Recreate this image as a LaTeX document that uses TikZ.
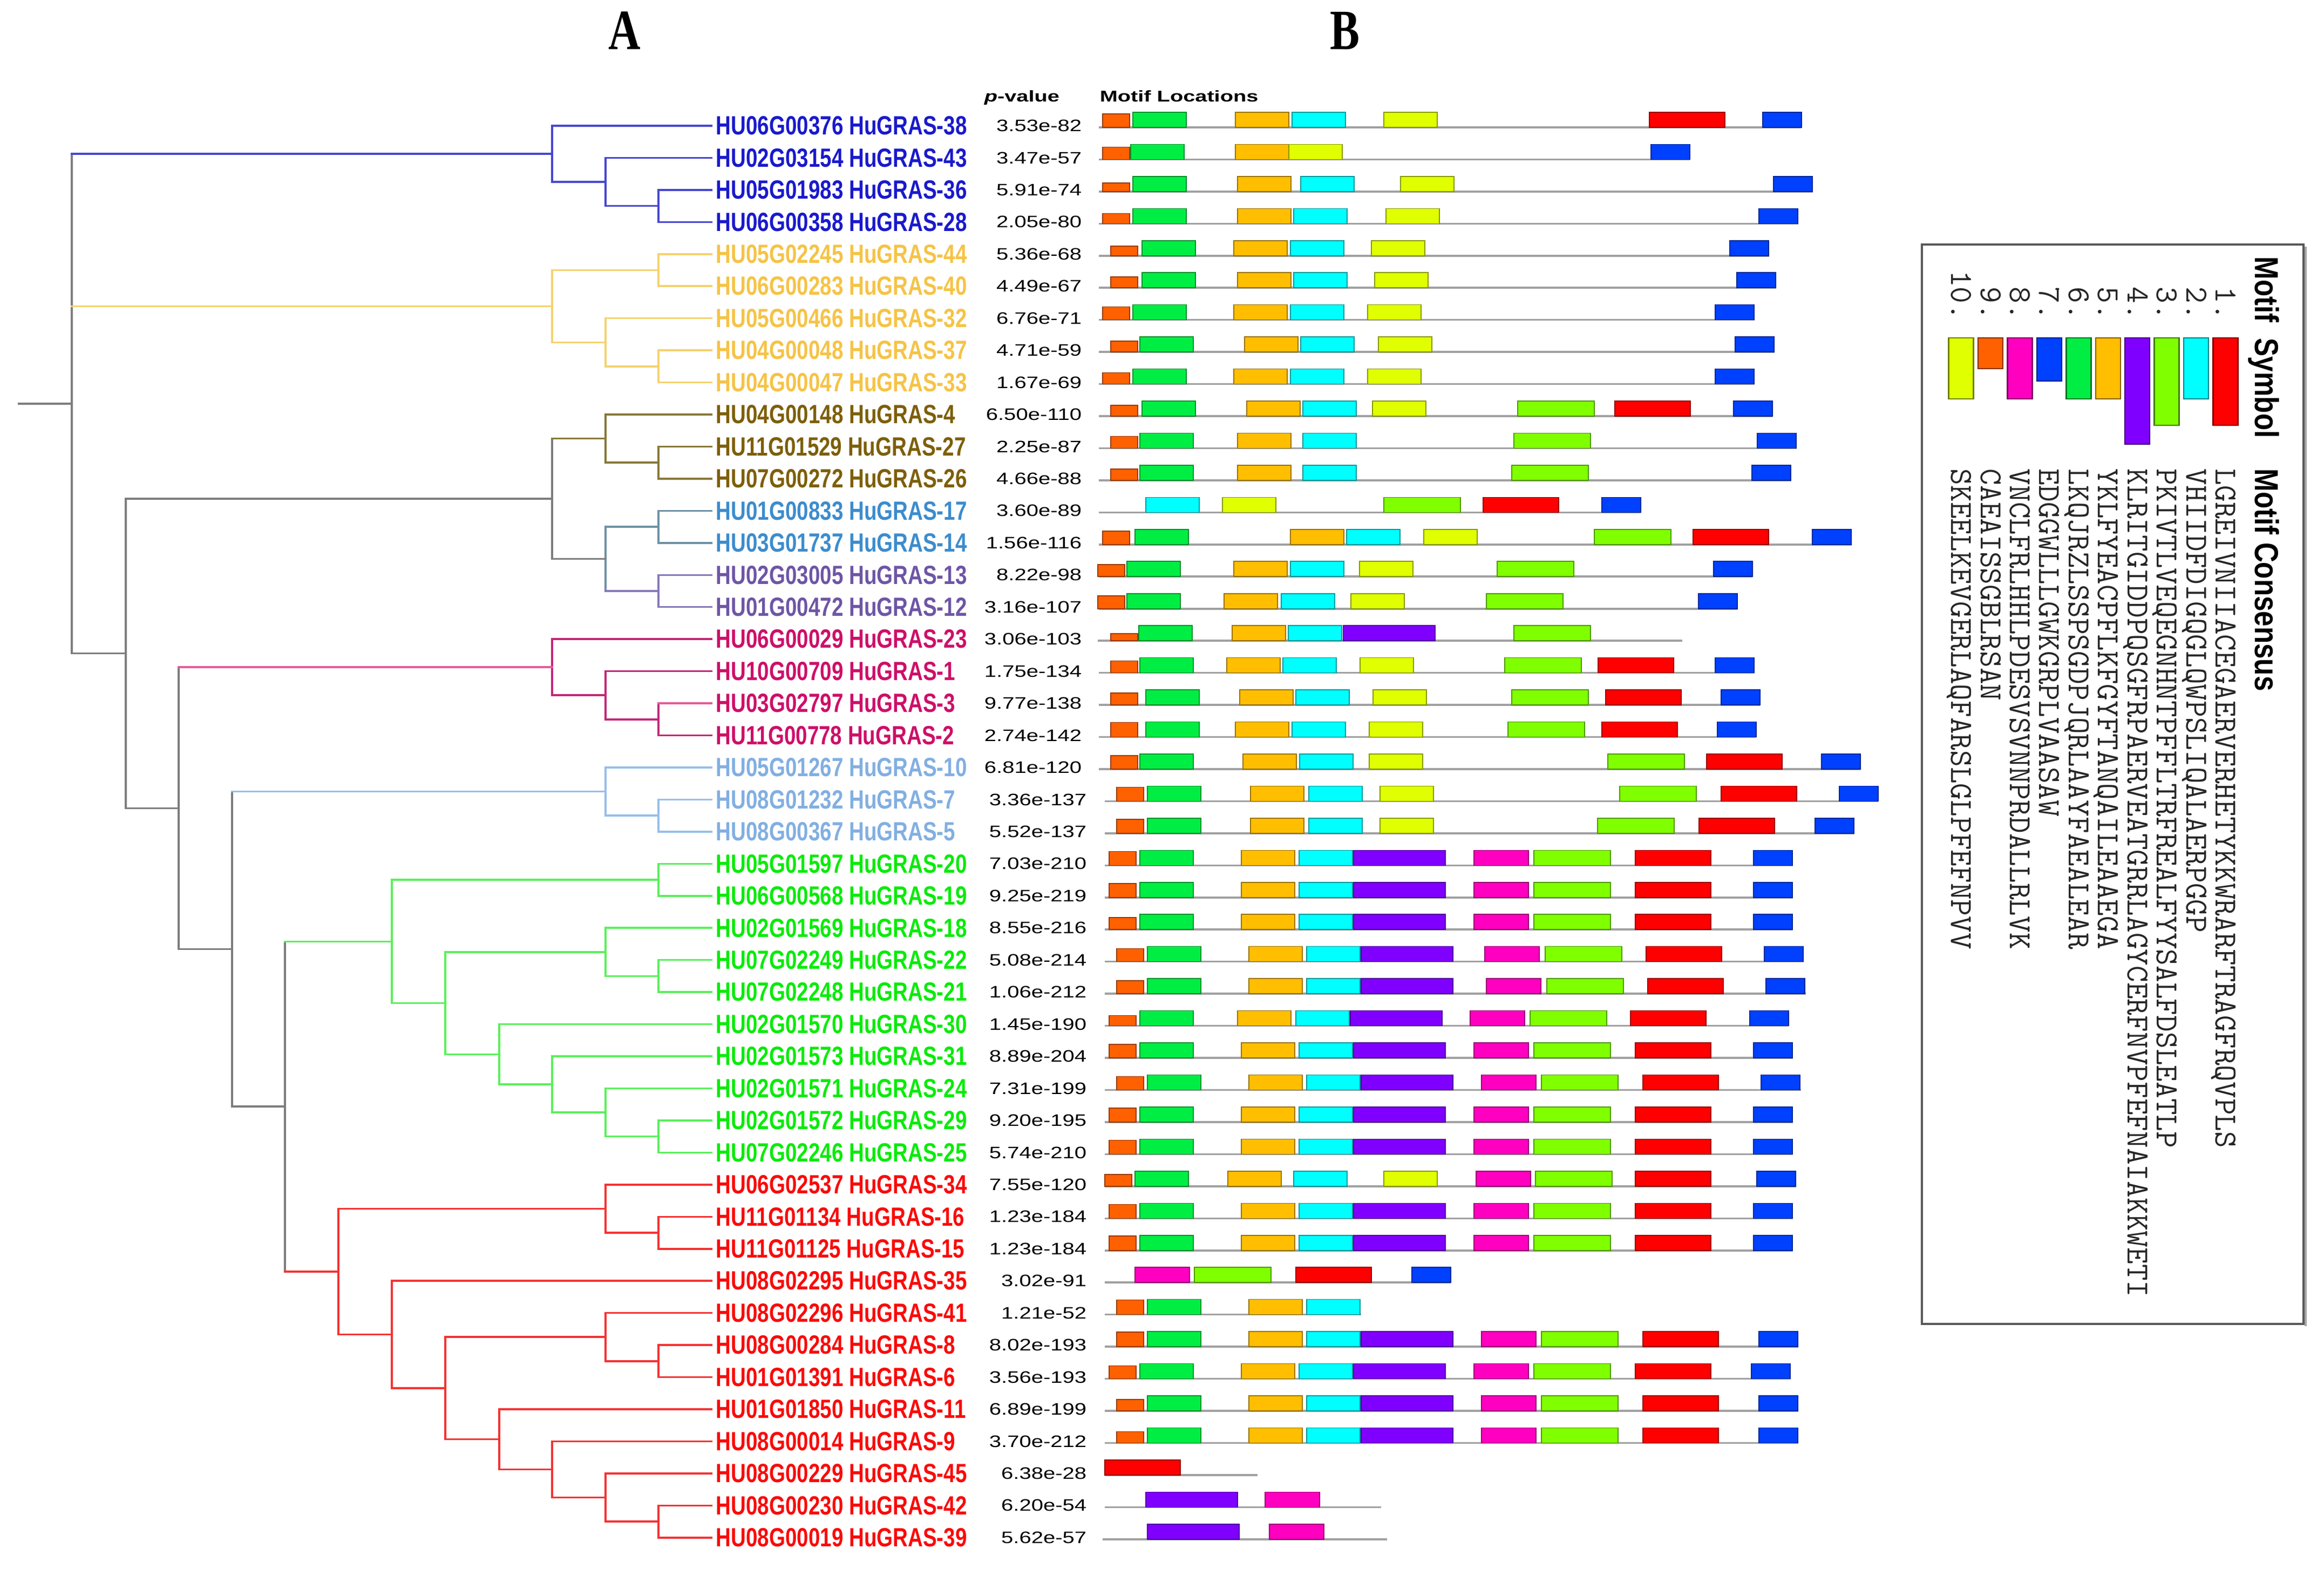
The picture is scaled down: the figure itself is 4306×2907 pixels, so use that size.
\documentclass[tikz,border=0pt]{standalone}
\usepackage{fontspec}
\usetikzlibrary{calc}
\newfontfamily\labfont[FakeStretch=0.79]{Liberation Sans}
\newfontfamily\pvfont[FakeStretch=1.3]{Liberation Sans}
\newfontfamily\hdfont[FakeStretch=1.38]{Liberation Sans}
\newfontfamily\ttlfont[FakeStretch=0.78]{Liberation Serif}
\newfontfamily\lgfont[FakeStretch=0.83]{Liberation Sans}
% motif colours
\definecolor{m1}{RGB}{255,0,0}
\definecolor{m2}{RGB}{0,255,255}
\definecolor{m3}{RGB}{128,255,0}
\definecolor{m4}{RGB}{128,0,255}
\definecolor{m5}{RGB}{255,190,0}
\definecolor{m6}{RGB}{0,238,68}
\definecolor{m7}{RGB}{0,64,255}
\definecolor{m8}{RGB}{255,0,192}
\definecolor{m9}{RGB}{255,96,0}
\definecolor{m10}{RGB}{224,255,0}
% label colours
\definecolor{cBlue}{RGB}{25,25,205}
\definecolor{cGold}{RGB}{245,195,70}
\definecolor{cOlive}{RGB}{125,95,10}
\definecolor{cSteel}{RGB}{60,140,205}
\definecolor{cPurp}{RGB}{110,85,165}
\definecolor{cCrim}{RGB}{205,15,105}
\definecolor{cLBlue}{RGB}{130,175,225}
\definecolor{cGreen}{RGB}{10,235,10}
\definecolor{cRed}{RGB}{250,10,10}
% branch colours
\definecolor{lGray}{RGB}{125,125,125}
\definecolor{lBlue}{RGB}{70,70,210}
\definecolor{lGold}{RGB}{245,210,110}
\definecolor{lOlive}{RGB}{135,120,55}
\definecolor{lSteel}{RGB}{110,145,165}
\definecolor{lPurp}{RGB}{135,120,185}
\definecolor{lCrim}{RGB}{195,40,120}
\definecolor{lPink}{RGB}{230,90,150}
\definecolor{lLBlue}{RGB}{150,190,235}
\definecolor{lGreen}{RGB}{90,240,90}
\definecolor{lRed}{RGB}{245,50,50}
\definecolor{mLine}{RGB}{160,160,160}
\tikzset{
  br/.style={line width=0.875pt, line cap=rect},
  lab/.style={font={\labfont\bfseries\fontsize{12.2pt}{14pt}\selectfont}, anchor=west, inner sep=0pt},
  pv/.style={font={\pvfont\fontsize{7.7pt}{9pt}\selectfont}, anchor=east, inner sep=0pt},
  hd/.style={font={\hdfont\bfseries\fontsize{7.2pt}{9pt}\selectfont}, anchor=base west, inner sep=0pt},
  ttl/.style={font={\ttlfont\bfseries\fontsize{26.4pt}{30pt}\selectfont}, inner sep=0pt},
  lghd/.style={font={\lgfont\bfseries\fontsize{15.4pt}{18pt}\selectfont}, rotate=-90, anchor=base west, inner sep=0pt},
  seqt/.style={font={\ttfamily\fontsize{14.9pt}{18pt}\selectfont}, text=black!85, rotate=-90, anchor=base west, inner sep=0pt},
  numt/.style={font={\ttfamily\fontsize{14.9pt}{18pt}\selectfont}, text=black!85, rotate=-90, anchor=base east, inner sep=0pt},
  mline/.style={draw=mLine, line width=0.9pt},
  legbox/.style={draw=black!65, line width=0.8pt}
}
% internal tree node: name, level coordinate, first child, last child
\newcommand\inode[4]{\coordinate (tmpa) at ($(#3)!.5!(#4)$);\coordinate (#1) at (#2 |- tmpa);}
% draw a node: vertical colour, node, child1, colour1, child2, colour2
\newcommand\tn[6]{%
  \draw[br,#1] (#2 |- #3) -- (#2 |- #5);
  \draw[br,#4] (#2 |- #3) -- (#3);
  \draw[br,#6] (#2 |- #5) -- (#5);}
% motif row: row, line start, line end, orange height, list motif/x
\newcommand\mrow[5]{%
  \pgfmathsetmacro\mly{236+(#1-1)*59.45}%
  \draw[mline] (#2,\mly) -- (#3,\mly);
  \foreach \m/\x in {#5}{%
    \pgfmathsetmacro\mw{{140,99,142,170,99,99,72,101,50,99}[\m-1]}%
    \pgfmathsetmacro\mh{\m==9 ? #4 : 28}%
    \filldraw[fill=m\m, draw=m\m!60!black, line width=0.4pt] (\x,\mly) rectangle ++(\mw,-\mh);
  }}
\begin{document}
\begin{tikzpicture}[x=0.25pt,y=-0.25pt]
\useasboundingbox (0,0) rectangle (4306,2907);
% titles
\node[ttl] (tA) at (1157,57) {A};
\node[ttl] (tB) at (2492,57) {B};
% ---------------- tree ----------------
\coordinate (K0) at (133,0);  \coordinate (K1) at (233,0);
\coordinate (K2) at (331,0);  \coordinate (K3) at (430,0);
\coordinate (K4) at (528,0);  \coordinate (K5) at (627,0);
\coordinate (K6) at (726,0);  \coordinate (K7) at (825,0);
\coordinate (K8) at (925,0);  \coordinate (K9) at (1023,0);
\coordinate (K10) at (1122,0); \coordinate (K11) at (1220,0);
\foreach \i in {1,...,45}{\coordinate (L\i) at (1318,{233+(\i-1)*59.45});}
% blue
\inode{b11}{K11}{L3}{L4}
\inode{b10}{K10}{L2}{b11}
\inode{b9}{K9}{L1}{b10}
% gold
\inode{g11a}{K11}{L5}{L6}
\inode{g11b}{K11}{L8}{L9}
\inode{g10}{K10}{L7}{g11b}
\inode{g9}{K9}{g11a}{g10}
% olive, steel, purple
\inode{o11}{K11}{L11}{L12}
\inode{o10}{K10}{L10}{o11}
\inode{s11}{K11}{L13}{L14}
\inode{p11}{K11}{L15}{L16}
\inode{sp10}{K10}{s11}{p11}
\inode{n9}{K9}{o10}{sp10}
% crimson
\inode{m11}{K11}{L19}{L20}
\inode{m10}{K10}{L18}{m11}
\inode{m9}{K9}{L17}{m10}
% light blue
\inode{lb11}{K11}{L22}{L23}
\inode{lb10}{K10}{L21}{lb11}
% green
\inode{gr11a}{K11}{L24}{L25}
\inode{gr11b}{K11}{L27}{L28}
\inode{gr10a}{K10}{L26}{gr11b}
\inode{gr11c}{K11}{L32}{L33}
\inode{gr10b}{K10}{L31}{gr11c}
\inode{gr9}{K9}{L30}{gr10b}
\inode{gr8}{K8}{L29}{gr9}
\inode{gr7}{K7}{gr10a}{gr8}
\inode{gr6}{K6}{gr11a}{gr7}
% red
\inode{r11a}{K11}{L35}{L36}
\inode{r10a}{K10}{L34}{r11a}
\inode{r11b}{K11}{L39}{L40}
\inode{r10b}{K10}{L38}{r11b}
\inode{r11c}{K11}{L44}{L45}
\inode{r10c}{K10}{L43}{r11c}
\inode{r9}{K9}{L42}{r10c}
\inode{r8}{K8}{L41}{r9}
\inode{r7}{K7}{r10b}{r8}
\inode{r6}{K6}{L37}{r7}
\inode{r5}{K5}{r10a}{r6}
% backbone
\inode{n4}{K4}{gr6}{r5}
\inode{n3}{K3}{lb10}{n4}
\inode{n2}{K2}{m9}{n3}
\inode{n1}{K1}{n9}{n2}
\inode{root}{K0}{b9}{n1}
\coordinate (R0) at ($(root)+(-98,0)$);
% draw
\tn{lBlue}{b11}{L3}{lBlue}{L4}{lBlue}
\tn{lBlue}{b10}{L2}{lBlue}{b11}{lBlue}
\tn{lBlue}{b9}{L1}{lBlue}{b10}{lBlue}
\tn{lGold}{g11a}{L5}{lGold}{L6}{lGold}
\tn{lGold}{g11b}{L8}{lGold}{L9}{lGold}
\tn{lGold}{g10}{L7}{lGold}{g11b}{lGold}
\tn{lGold}{g9}{g11a}{lGold}{g10}{lGold}
\tn{lOlive}{o11}{L11}{lOlive}{L12}{lOlive}
\tn{lOlive}{o10}{L10}{lOlive}{o11}{lOlive}
\tn{lSteel}{s11}{L13}{lSteel}{L14}{lSteel}
\tn{lPurp}{p11}{L15}{lPurp}{L16}{lPurp}
\tn{lSteel}{sp10}{s11}{lSteel}{p11}{lPurp}
\tn{lGray}{n9}{o10}{lOlive}{sp10}{lGray}
\tn{lCrim}{m11}{L19}{lPink}{L20}{lCrim}
\tn{lCrim}{m10}{L18}{lCrim}{m11}{lCrim}
\tn{lCrim}{m9}{L17}{lCrim}{m10}{lCrim}
\tn{lLBlue}{lb11}{L22}{lLBlue}{L23}{lLBlue}
\tn{lLBlue}{lb10}{L21}{lLBlue}{lb11}{lLBlue}
\tn{lGreen}{gr11a}{L24}{lGreen}{L25}{lGreen}
\tn{lGreen}{gr11b}{L27}{lGreen}{L28}{lGreen}
\tn{lGreen}{gr10a}{L26}{lGreen}{gr11b}{lGreen}
\tn{lGreen}{gr11c}{L32}{lGreen}{L33}{lGreen}
\tn{lGreen}{gr10b}{L31}{lGreen}{gr11c}{lGreen}
\tn{lGreen}{gr9}{L30}{lGreen}{gr10b}{lGreen}
\tn{lGreen}{gr8}{L29}{lGreen}{gr9}{lGreen}
\tn{lGreen}{gr7}{gr10a}{lGreen}{gr8}{lGreen}
\tn{lGreen}{gr6}{gr11a}{lGreen}{gr7}{lGreen}
\tn{lRed}{r11a}{L35}{lRed}{L36}{lRed}
\tn{lRed}{r10a}{L34}{lRed}{r11a}{lRed}
\tn{lRed}{r11b}{L39}{lRed}{L40}{lRed}
\tn{lRed}{r10b}{L38}{lRed}{r11b}{lRed}
\tn{lRed}{r11c}{L44}{lRed}{L45}{lRed}
\tn{lRed}{r10c}{L43}{lRed}{r11c}{lRed}
\tn{lRed}{r9}{L42}{lRed}{r10c}{lRed}
\tn{lRed}{r8}{L41}{lRed}{r9}{lRed}
\tn{lRed}{r7}{r10b}{lRed}{r8}{lRed}
\tn{lRed}{r6}{L37}{lRed}{r7}{lRed}
\tn{lRed}{r5}{r10a}{lRed}{r6}{lRed}
\tn{lGray}{n4}{gr6}{lGreen}{r5}{lRed}
\tn{lGray}{n3}{lb10}{lLBlue}{n4}{lGray}
\tn{lGray}{n2}{m9}{lPink}{n3}{lGray}
\tn{lGray}{n1}{n9}{lGray}{n2}{lGray}
\tn{lGray}{root}{b9}{lBlue}{n1}{lGray}
\draw[br,lGold] (root |- g9) -- (g9);
\draw[br,lGray] (R0) -- (root);
% ---------------- labels and p-values ----------------
\foreach \i/\t/\c/\p in {
1/HU06G00376 HuGRAS-38/cBlue/3.53e-82,
2/HU02G03154 HuGRAS-43/cBlue/3.47e-57,
3/HU05G01983 HuGRAS-36/cBlue/5.91e-74,
4/HU06G00358 HuGRAS-28/cBlue/2.05e-80,
5/HU05G02245 HuGRAS-44/cGold/5.36e-68,
6/HU06G00283 HuGRAS-40/cGold/4.49e-67,
7/HU05G00466 HuGRAS-32/cGold/6.76e-71,
8/HU04G00048 HuGRAS-37/cGold/4.71e-59,
9/HU04G00047 HuGRAS-33/cGold/1.67e-69,
10/HU04G00148 HuGRAS-4/cOlive/6.50e-110,
11/HU11G01529 HuGRAS-27/cOlive/2.25e-87,
12/HU07G00272 HuGRAS-26/cOlive/4.66e-88,
13/HU01G00833 HuGRAS-17/cSteel/3.60e-89,
14/HU03G01737 HuGRAS-14/cSteel/1.56e-116,
15/HU02G03005 HuGRAS-13/cPurp/8.22e-98,
16/HU01G00472 HuGRAS-12/cPurp/3.16e-107,
17/HU06G00029 HuGRAS-23/cCrim/3.06e-103,
18/HU10G00709 HuGRAS-1/cCrim/1.75e-134,
19/HU03G02797 HuGRAS-3/cCrim/9.77e-138,
20/HU11G00778 HuGRAS-2/cCrim/2.74e-142,
21/HU05G01267 HuGRAS-10/cLBlue/6.81e-120,
22/HU08G01232 HuGRAS-7/cLBlue/3.36e-137,
23/HU08G00367 HuGRAS-5/cLBlue/5.52e-137,
24/HU05G01597 HuGRAS-20/cGreen/7.03e-210,
25/HU06G00568 HuGRAS-19/cGreen/9.25e-219,
26/HU02G01569 HuGRAS-18/cGreen/8.55e-216,
27/HU07G02249 HuGRAS-22/cGreen/5.08e-214,
28/HU07G02248 HuGRAS-21/cGreen/1.06e-212,
29/HU02G01570 HuGRAS-30/cGreen/1.45e-190,
30/HU02G01573 HuGRAS-31/cGreen/8.89e-204,
31/HU02G01571 HuGRAS-24/cGreen/7.31e-199,
32/HU02G01572 HuGRAS-29/cGreen/9.20e-195,
33/HU07G02246 HuGRAS-25/cGreen/5.74e-210,
34/HU06G02537 HuGRAS-34/cRed/7.55e-120,
35/HU11G01134 HuGRAS-16/cRed/1.23e-184,
36/HU11G01125 HuGRAS-15/cRed/1.23e-184,
37/HU08G02295 HuGRAS-35/cRed/3.02e-91,
38/HU08G02296 HuGRAS-41/cRed/1.21e-52,
39/HU08G00284 HuGRAS-8/cRed/8.02e-193,
40/HU01G01391 HuGRAS-6/cRed/3.56e-193,
41/HU01G01850 HuGRAS-11/cRed/6.89e-199,
42/HU08G00014 HuGRAS-9/cRed/3.70e-212,
43/HU08G00229 HuGRAS-45/cRed/6.38e-28,
44/HU08G00230 HuGRAS-42/cRed/6.20e-54,
45/HU08G00019 HuGRAS-39/cRed/5.62e-57}{
  \pgfmathsetmacro\yy{233+(\i-1)*59.45}
  \pgfmathsetmacro\px{\i<22 ? 2005 : 2014}
  \node[lab, text=\c] (lab\i) at (1326,\yy) {\t};
  \node[pv] (pv\i) at (\px,\yy) {\p};
}
% ---------------- motif locations ----------------
\node[hd] (hp) at (1823,189) {\textit{p}-value};
\node[hd] (hm) at (2037,189) {Motif Locations};
\mrow{1}{2036}{3337}{25}{9/2043,6/2099,5/2289,2/2394,10/2564,1/3056,7/3266}
\mrow{2}{2036}{3131}{23}{9/2043,6/2095,5/2289,10/2388,7/3059}
\mrow{3}{2036}{3359}{16}{9/2043,6/2099,5/2293,2/2410,10/2595,7/3286}
\mrow{4}{2036}{3332}{19}{9/2043,6/2099,5/2293,2/2397,10/2568,7/3259}
\mrow{5}{2036}{3278}{18}{9/2058,6/2116,5/2286,2/2391,10/2541,7/3205}
\mrow{6}{2036}{3291}{20}{9/2058,6/2116,5/2293,2/2397,10/2547,7/3218}
\mrow{7}{2036}{3251}{24}{9/2043,6/2099,5/2286,2/2391,10/2534,7/3178}
\mrow{8}{2036}{3288}{20}{9/2058,6/2112,5/2306,2/2410,10/2554,7/3215}
\mrow{9}{2036}{3251}{21}{9/2043,6/2099,5/2286,2/2391,10/2534,7/3178}
\mrow{10}{2036}{3284}{20}{9/2058,6/2116,5/2310,2/2414,10/2543,3/2812,1/2992,7/3212}
\mrow{11}{2036}{3329}{22}{9/2058,6/2112,5/2293,2/2414,3/2805,7/3256}
\mrow{12}{2036}{3319}{21}{9/2058,6/2112,5/2293,2/2414,3/2801,7/3246}
\mrow{13}{2036}{3040}{28}{2/2123,10/2265,3/2564,1/2748,7/2968}
\mrow{14}{2036}{3431}{25}{9/2043,6/2103,5/2391,2/2495,10/2638,3/2954,1/3137,7/3358}
\mrow{15}{2036}{3247}{22}{9/2034,6/2088,5/2286,2/2391,10/2519,3/2774,7/3175}
\mrow{16}{2036}{3219}{24}{9/2034,6/2088,5/2268,2/2374,10/2503,3/2754,7/3147}
\mrow{17}{2034}{3117}{13}{9/2058,6/2110,5/2283,2/2387,4/2489,3/2805}
\mrow{18}{2036}{3251}{22}{9/2058,6/2112,5/2273,2/2377,10/2520,3/2788,1/2961,7/3178}
\mrow{19}{2036}{3261}{22}{9/2058,6/2123,5/2297,2/2401,10/2544,3/2801,1/2975,7/3189}
\mrow{20}{2036}{3254}{27}{9/2058,6/2123,5/2289,2/2394,10/2537,3/2794,1/2968,7/3182}
\mrow{21}{2036}{3447}{25}{9/2058,6/2112,5/2303,2/2408,10/2537,3/2979,1/3162,7/3375}
\mrow{22}{2047}{3480}{26}{9/2069,6/2126,5/2317,2/2425,10/2557,3/3001,1/3189,7/3408}
\mrow{23}{2047}{3436}{26}{9/2069,6/2126,5/2317,2/2425,10/2557,3/2960,1/3148,7/3363}
\mrow{24}{2047}{3322}{26}{9/2055,6/2112,5/2300,2/2407,4/2508,8/2731,3/2842,1/3030,7/3249}
\mrow{25}{2047}{3322}{26}{9/2055,6/2112,5/2300,2/2407,4/2508,8/2731,3/2842,1/3030,7/3249}
\mrow{26}{2047}{3322}{22}{9/2055,6/2112,5/2300,2/2407,4/2508,8/2731,3/2842,1/3030,7/3249}
\mrow{27}{2047}{3342}{24}{9/2069,6/2126,5/2314,2/2421,4/2522,8/2751,3/2863,1/3050,7/3269}
\mrow{28}{2047}{3346}{24}{9/2069,6/2126,5/2314,2/2421,4/2522,8/2754,3/2866,1/3053,7/3272}
\mrow{29}{2047}{3314}{19}{9/2055,6/2112,5/2293,2/2401,4/2502,8/2724,3/2835,1/3021,7/3242}
\mrow{30}{2047}{3322}{25}{9/2055,6/2112,5/2300,2/2407,4/2508,8/2731,3/2842,1/3030,7/3249}
\mrow{31}{2047}{3337}{25}{9/2069,6/2126,5/2314,2/2421,4/2522,8/2745,3/2856,1/3044,7/3263}
\mrow{32}{2047}{3322}{26}{9/2055,6/2112,5/2300,2/2407,4/2508,8/2731,3/2842,1/3030,7/3249}
\mrow{33}{2047}{3322}{26}{9/2055,6/2112,5/2300,2/2407,4/2508,8/2731,3/2842,1/3030,7/3249}
\mrow{34}{2047}{3328}{22}{9/2047,6/2103,5/2275,2/2397,10/2564,8/2735,3/2845,1/3030,7/3255}
\mrow{35}{2047}{3322}{26}{9/2055,6/2112,5/2300,2/2407,4/2508,8/2731,3/2842,1/3030,7/3249}
\mrow{36}{2047}{3322}{27}{9/2055,6/2112,5/2300,2/2407,4/2508,8/2731,3/2842,1/3030,7/3249}
\mrow{37}{2047}{2688}{28}{8/2103,3/2213,1/2401,7/2616}
\mrow{38}{2047}{2522}{27}{9/2069,6/2126,5/2314,2/2421}
\mrow{39}{2047}{3332}{27}{9/2069,6/2126,5/2314,2/2421,4/2522,8/2745,3/2856,1/3044,7/3259}
\mrow{40}{2047}{3318}{24}{9/2055,6/2112,5/2300,2/2407,4/2508,8/2731,3/2842,1/3030,7/3245}
\mrow{41}{2047}{3332}{21}{9/2069,6/2126,5/2314,2/2421,4/2522,8/2745,3/2856,1/3044,7/3259}
\mrow{42}{2047}{3332}{21}{9/2069,6/2126,5/2314,2/2421,4/2522,8/2745,3/2856,1/3044,7/3259}
\mrow{43}{2047}{2330}{28}{1/2047}
\mrow{44}{2047}{2559}{28}{4/2123,8/2344}
\mrow{45}{2043}{2570}{28}{4/2126,8/2352}
% ---------------- legend ----------------
\draw[legbox] (3561,453) rectangle (4268,2453);
\draw[black!35, line width=0.8pt] (4272,457) -- (4272,2457);
\node[lghd] (lh1) at (4178,475) {Motif};
\node[lghd] (lh2) at (4178,626) {Symbol};
\node[lghd] (lh3) at (4178,868) {Motif Consensus};
\foreach \k/\len/\sq in {
1/162/LGREIVNIIACEGAERVERHETYKKWRARFTRAGFRQVPLS,
2/113/VHIIDFDIGQGLQWPSLIQALAERPGGP,
3/162/PKIVTLVEQEGNHNTPFFLTRFREALFYYSALFDSLEATLP,
4/197/KLRITGIDDPQSGFRPAERVEATGRRLAGYCERFNVPFEFNAIAKKWETI,
5/113/YKLFYEACPFLKFGYFTANQAILEAAEGA,
6/113/LKQJRZLSSPSGDPJQRLAAYFAEALEAR,
7/80/EDGGWLLLGWKGRPLVAASAW,
8/113/VNCLFRLHHLPDESVSVNNPRDALLRLVK,
9/57/CAEAISSGBLRSAN,
10/113/SKEELKEVGERLAQFARSLGLPFEFNPVV}{
  \pgfmathsetmacro\lx{4123.5-(\k-1)*54.43}
  \node[numt] (ln\k) at ({\lx-18},594) {\k.};
  \filldraw[fill=m\k, draw=m\k!50!black, line width=0.6pt] ({\lx-23},626) rectangle ({\lx+23},{626+\len});
  \node[seqt] (ls\k) at ({\lx-18},868) {\sq};
}
\end{tikzpicture}
\end{document}
